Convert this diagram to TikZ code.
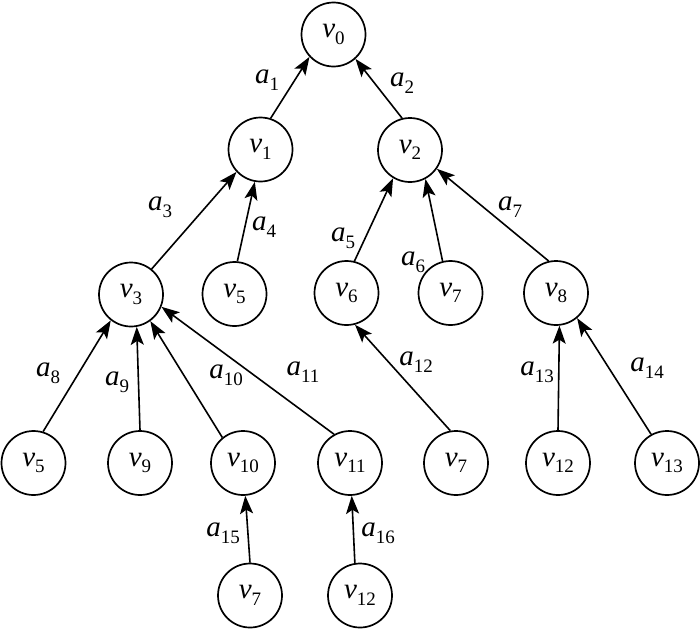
\documentclass[tikz,border=0pt]{standalone}
\usepackage{fontspec}
\setmainfont{Liberation Serif}
\usetikzlibrary{arrows.meta}
\newcommand{\sym}[2]{{\itshape #1}\raisebox{-0.5ex}{\fontsize{19}{19}\selectfont #2}}
\begin{document}
\begin{tikzpicture}[x=1pt,y=-1pt,
 vert/.style={circle,draw,line width=1.7pt,minimum size=64pt,inner sep=0pt,font=\fontsize{29}{29}\selectfont},
 edge/.style={line width=1.6pt,-{Stealth[length=18pt,width=13pt,inset=4pt]}},
 lab/.style={inner sep=0pt,font=\fontsize{29}{29}\selectfont}]
\useasboundingbox (0,0) rectangle (700,629);
\node[vert] (v0) at (333.5,34.5) {\sym{v}{0}};
\node[vert] (v1) at (260.5,149.5) {\sym{v}{1}};
\node[vert] (v2) at (410,150) {\sym{v}{2}};
\node[vert] (v3) at (131,294.5) {\sym{v}{3}};
\node[vert] (v5a) at (234.5,294) {\sym{v}{5}};
\node[vert] (v6) at (346.5,293) {\sym{v}{6}};
\node[vert] (v7a) at (450.5,293) {\sym{v}{7}};
\node[vert] (v8) at (556,293) {\sym{v}{8}};
\node[vert] (v5b) at (33.5,463) {\sym{v}{5}};
\node[vert] (v9) at (140,463) {\sym{v}{9}};
\node[vert] (v10) at (243,463) {\sym{v}{10}};
\node[vert] (v11) at (350,463) {\sym{v}{11}};
\node[vert] (v7b) at (456,463) {\sym{v}{7}};
\node[vert] (v12a) at (558,463) {\sym{v}{12}};
\node[vert] (v13) at (667,463) {\sym{v}{13}};
\node[vert] (v7c) at (250,595.5) {\sym{v}{7}};
\node[vert] (v12b) at (360,595.5) {\sym{v}{12}};

\draw[edge] (v1.72) -- (v0.-137);
\draw[edge] (v2.104) -- (v0.-48);
\draw[edge] (v3.51) -- (v1.-137);
\draw[edge] (v5a.85) -- (v1.-100);
\draw[edge] (v6.76) -- (v2.-121);
\draw[edge] (v7a.104) -- (v2.-62);
\draw[edge] (v8.103) -- (v2.-35);
\draw[edge] (v5b.73) -- (v3.-128);
\draw[edge] (v9.90) -- (v3.-80);
\draw[edge] (v10.129) -- (v3.-54);
\draw[edge] (v11.119) -- (v3.-22);
\draw[edge] (v7b.100) -- (v6.-75);
\draw[edge] (v12a.90) -- (v8.-84);
\draw[edge] (v13.119) -- (v8.-50);
\draw[edge] (v7c.90) -- (v10.-86);
\draw[edge] (v12b.99) -- (v11.-87);

\node[lab] (l1) at (267,80) {\sym{a}{1}};
\node[lab] (l2) at (402,83) {\sym{a}{2}};
\node[lab] (l3) at (160,207) {\sym{a}{3}};
\node[lab] (l4) at (264,227) {\sym{a}{4}};
\node[lab] (l5) at (343,238) {\sym{a}{5}};
\node[lab] (l6) at (413,262) {\sym{a}{6}};
\node[lab] (l7) at (510,207) {\sym{a}{7}};
\node[lab] (l8) at (48,373) {\sym{a}{8}};
\node[lab] (l9) at (117,382) {\sym{a}{9}};
\node[lab] (l10) at (226,375) {\sym{a}{10}};
\node[lab] (l11) at (303,372) {\sym{a}{11}};
\node[lab] (l12) at (416,362) {\sym{a}{12}};
\node[lab] (l13) at (537,372) {\sym{a}{13}};
\node[lab] (l14) at (647,368) {\sym{a}{14}};
\node[lab] (l15) at (223,533) {\sym{a}{15}};
\node[lab] (l16) at (378,533) {\sym{a}{16}};
\end{tikzpicture}
\end{document}
